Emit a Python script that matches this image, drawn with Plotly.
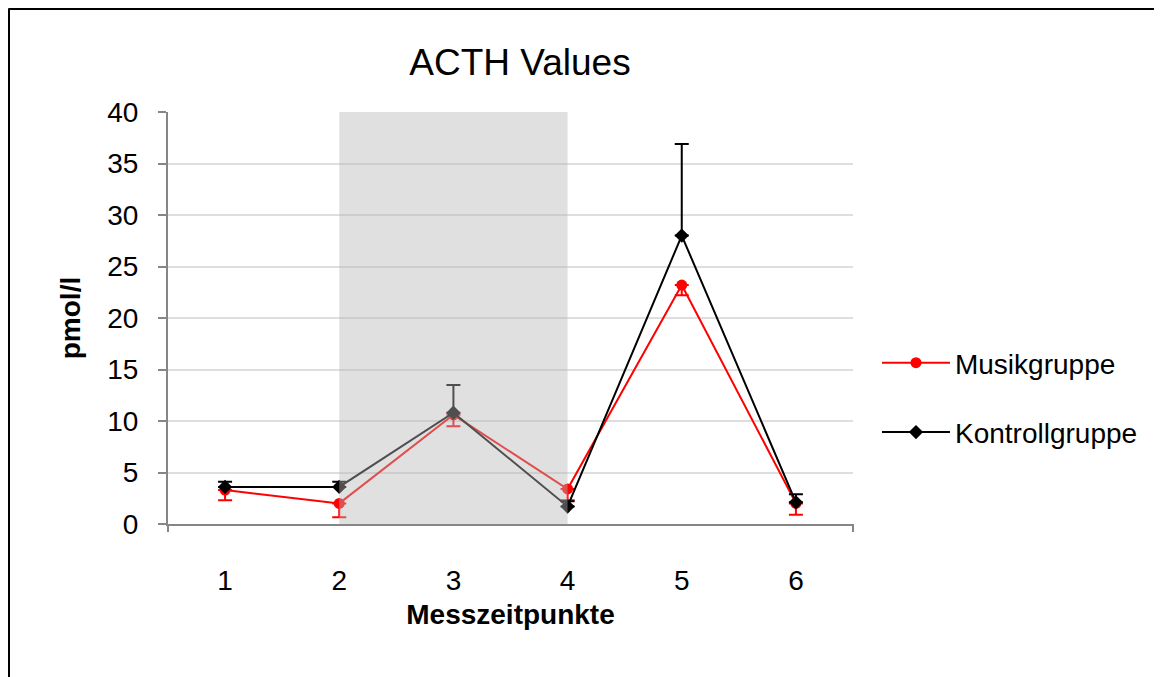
import plotly.graph_objects as go

time_points = [1, 2, 3, 4, 5, 6]
tick_labels = ["1", "2", "3", "4", "5", "6"]
musik_values = [3.3, 2.0, 10.6, 3.4, 23.2, 2.0]
musik_err_minus = [1.0, 1.35, 1.1, 1.1, 1.0, 1.1]
kontroll_values = [3.6, 3.6, 10.8, 1.7, 28.0, 2.1]
kontroll_err_plus = [0.5, 0.5, 2.7, 0.5, 8.9, 0.8]
zero_err = [0, 0, 0, 0, 0, 0]
shade_start, shade_end = 2, 4

FONT = "Liberation Sans, Arial, sans-serif"

# page has an 8px body margin; plot area sits at page x 168..853, y 112..524
W, H = 1154, 669
L, T = 160, 104
PW, PH = 685, 412

fig = go.Figure()
fig.add_trace(go.Scatter(
    x=time_points, y=musik_values, name="Musikgruppe", mode="lines+markers",
    line=dict(color="#ff0000", width=2),
    marker=dict(symbol="circle", size=11, color="#ff0000"),
    error_y=dict(type="data", symmetric=False, array=zero_err, arrayminus=musik_err_minus,
                 color="#ff0000", thickness=2, width=7),
    legendgroup="a",
))
fig.add_trace(go.Scatter(
    x=time_points, y=kontroll_values, name="Kontrollgruppe", mode="lines+markers",
    line=dict(color="#000000", width=2),
    marker=dict(symbol="diamond", size=11, color="#000000"),
    error_y=dict(type="data", symmetric=False, array=kontroll_err_plus, arrayminus=zero_err,
                 color="#000000", thickness=2, width=7),
    legendgroup="b",
))

# shaded interval (drawn over the lines, semi-transparent)
fig.add_shape(type="rect", xref="x", yref="y", x0=shade_start, x1=shade_end, y0=0, y1=40,
              fillcolor="rgb(184,184,184)", opacity=0.43, line=dict(width=0), layer="above")

# outer frame (top and left edges visible)
fx = -(L - 0.5) / PW
fy = 1 + (T - 0.5) / PH
fig.add_shape(type="line", xref="paper", yref="paper", x0=fx, x1=1.6, y0=fy, y1=fy,
              line=dict(color="#000000", width=3))
fig.add_shape(type="line", xref="paper", yref="paper", x0=fx, x1=fx, y0=fy, y1=-0.5,
              line=dict(color="#000000", width=3))
# x-axis end ticks
for xp in [0, 1]:
    fig.add_shape(type="line", xref="paper", yref="paper", x0=xp, x1=xp, y0=0, y1=-8 / PH,
                  line=dict(color="#868686", width=2))

fig.update_layout(
    width=W, height=H,
    margin=dict(l=L, r=W - L - PW, t=T, b=H - T - PH),
    paper_bgcolor="white", plot_bgcolor="white",
    font=dict(family=FONT, color="#000000"),
    title=dict(text="ACTH Values", x=(520 - 168) / PW, xref="paper", xanchor="center",
               y=1 - 54 / H, yref="container", yanchor="middle",
               font=dict(size=37, family=FONT, color="#000000")),
    showlegend=True,
    legend=dict(x=1.035, xanchor="left", y=(524 - 397.5) / PH, yanchor="middle",
                font=dict(size=28, family=FONT), tracegroupgap=30, itemwidth=68,
                bgcolor="rgba(0,0,0,0)"),
)
fig.update_xaxes(
    type="linear", range=[0.5, 6.5], tickmode="array", tickvals=time_points, ticktext=tick_labels,
    showgrid=False, zeroline=False, showline=True, linecolor="#868686", linewidth=2,
    ticks="", tickfont=dict(size=28, family=FONT), ticklabelstandoff=30,
    title=dict(text="<b>Messzeitpunkte</b>", font=dict(size=28, family=FONT), standoff=10),
)
fig.update_yaxes(
    range=[0, 40], tickmode="linear", tick0=0, dtick=5,
    showgrid=True, gridcolor="#dedede", gridwidth=1.5, zeroline=False,
    showline=True, linecolor="#868686", linewidth=2,
    ticks="outside", ticklen=8, tickcolor="#868686", tickwidth=2,
    tickfont=dict(size=28, family=FONT), ticklabelstandoff=14,
    title=dict(text="<b>pmol/l</b>", font=dict(size=28, family=FONT), standoff=18),
)

fig.write_html("out.html")
